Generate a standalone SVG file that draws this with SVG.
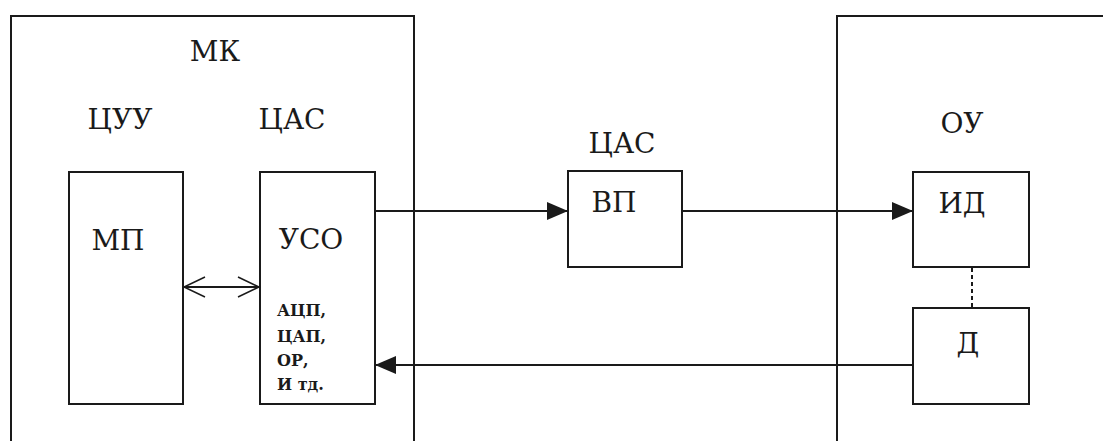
<svg xmlns="http://www.w3.org/2000/svg" width="1103" height="441" viewBox="0 0 1103 441">
<style>
.box{fill:none;stroke:#1a1a1a;stroke-width:2}
.ln{fill:none;stroke:#1a1a1a;stroke-width:2}
.t{font-family:"DejaVu Serif",serif;font-size:28px;fill:#1a1a1a;text-anchor:middle}
.s{font-family:"DejaVu Serif",serif;font-size:16px;font-weight:bold;fill:#1a1a1a}
</style>
<defs>
<marker id="fill" markerUnits="userSpaceOnUse" markerWidth="22" markerHeight="20" refX="21" refY="9" orient="auto">
<path d="M0,0 L21,9 L0,18 Z" fill="#1a1a1a"/>
</marker>
<marker id="open" markerUnits="userSpaceOnUse" markerWidth="24" markerHeight="24" refX="22" refY="11" orient="auto-start-reverse">
<path d="M1,1 L22,11 L1,21" fill="none" stroke="#1a1a1a" stroke-width="1.5"/>
</marker>
</defs>
<rect width="1103" height="441" fill="#ffffff"/>
<g id="mk">
<path class="box" d="M11,441 V16 H414 V441"/>
<text class="t" x="215" y="61">МК</text>
<text class="t" x="120" y="129">ЦУУ</text>
<text class="t" x="292" y="129">ЦАС</text>
</g>
<g id="mp">
<rect class="box" x="69" y="172" width="114" height="232"/>
<text class="t" x="118" y="250">МП</text>
</g>
<g id="uso">
<rect class="box" x="260" y="172" width="115" height="232"/>
<text class="t" x="311" y="249">УСО</text>
<text class="s" x="277" y="316">АЦП,</text>
<text class="s" x="277" y="342">ЦАП,</text>
<text class="s" x="277" y="366">ОР,</text>
<text class="s" x="277" y="390">И тд.</text>
</g>
<g id="vp">
<text class="t" x="622" y="153">ЦАС</text>
<rect class="box" x="568" y="171" width="114" height="96"/>
<text class="t" x="614" y="212">ВП</text>
</g>
<g id="ou">
<path class="box" d="M837,441 V16 H1103"/>
<text class="t" x="962" y="133">ОУ</text>
</g>
<g id="id">
<rect class="box" x="913" y="172" width="116" height="95"/>
<text class="t" x="962" y="213">ИД</text>
</g>
<g id="d">
<rect class="box" x="913" y="308" width="116" height="96"/>
<text class="t" x="968" y="353">Д</text>
</g>
<g id="connectors">
<line class="ln" x1="375" y1="211" x2="568" y2="211" marker-end="url(#fill)"/>
<line class="ln" x1="682" y1="211" x2="913" y2="211" marker-end="url(#fill)"/>
<line class="ln" x1="913" y1="365" x2="375" y2="365" marker-end="url(#fill)"/>
<line class="ln" x1="184" y1="287" x2="259" y2="287" marker-start="url(#open)" marker-end="url(#open)"/>
<line class="ln" x1="972" y1="268" x2="972" y2="308" stroke-dasharray="4,3"/>
</g>
</svg>
